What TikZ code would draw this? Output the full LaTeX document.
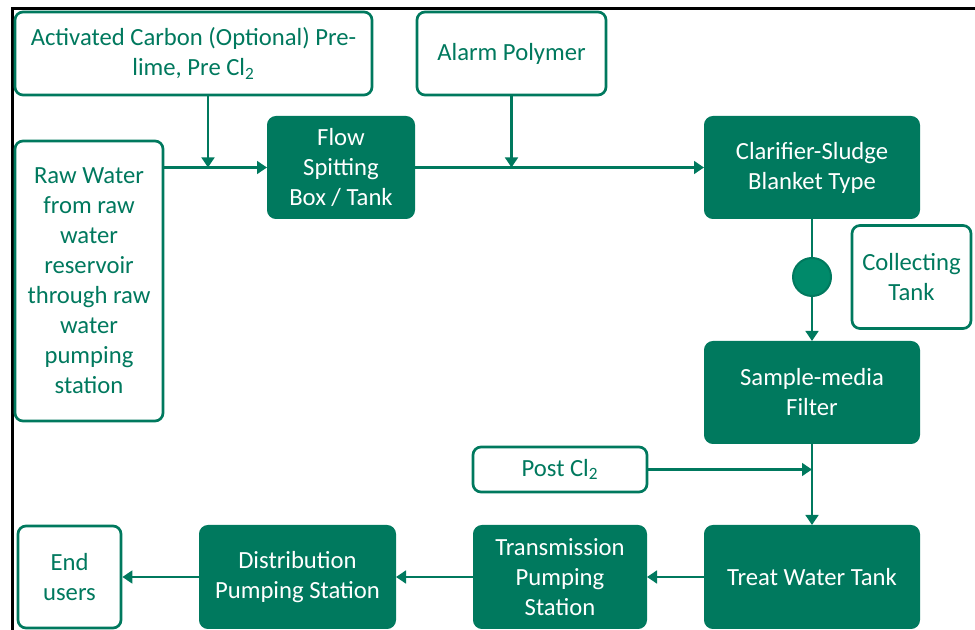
\documentclass[tikz,border=0pt]{standalone}
\usepackage{fontspec}
\setmainfont{Carlito}
\usetikzlibrary{arrows.meta, positioning}
\definecolor{plantgreen}{RGB}{0,121,94}
\definecolor{pumpgreen}{RGB}{0,138,106}
\tikzset{
    stage/.style={rectangle, rounded corners=6pt, fill=plantgreen, draw=plantgreen,
        line width=1.5pt, text=white, align=center, inner sep=2pt},
    dosebox/.style={rectangle, rounded corners=6pt, fill=white, draw=plantgreen,
        line width=2pt, text=plantgreen, align=center, inner sep=2pt},
    arrow/.style={-{Triangle[length=7.5pt, width=9.5pt]}, line width=2pt, draw=plantgreen}
}

\begin{document}
\begin{tikzpicture}[x=0.75pt, y=-0.75pt, font=\fontsize{18.5}{22.5}\selectfont]

    \useasboundingbox (0,0) rectangle (975,630);
    \draw[line width=2.25pt] (12,630) -- (12,9) -- (975,9);

    % chemical dosing and intake
    \node[dosebox, minimum width=267.75pt, minimum height=62.25pt] (actv) at (193.5,53.5)
        {Activated Carbon (Optional) Pre-\\lime, Pre Cl\textsubscript{2}};
    \node[dosebox, minimum width=141.75pt, minimum height=62.25pt] (alarm) at (511.5,53.5) {Alarm Polymer};
    \node[dosebox, minimum width=111pt, minimum height=210pt] (raw) at (89,281)
        {Raw Water\\from raw\\water\\reservoir\\through raw\\water\\pumping\\station};

    % treatment line
    \node[stage, minimum width=109.5pt, minimum height=75.75pt] (flow) at (341,167.5) {Flow\\Spitting\\Box / Tank};
    \node[stage, minimum width=160.5pt, minimum height=75.75pt] (clar) at (812,167.5) {Clarifier-Sludge\\Blanket Type};
    \node[circle, fill=pumpgreen, draw=plantgreen, line width=1.5pt, minimum size=28.5pt, inner sep=0pt,
        below=28.5pt of clar] (pump) {};
    \node[dosebox, minimum width=89.25pt, minimum height=77.25pt, right=14pt of pump] (coll) {Collecting\\Tank};
    \node[stage, minimum width=160.5pt, minimum height=75.75pt, below=91.5pt of clar] (sample) {Sample-media\\Filter};
    \node[dosebox, minimum width=130.5pt, minimum height=33.75pt] (post) at (560,469.5) {Post Cl\textsubscript{2}};

    % storage and distribution
    \node[stage, minimum width=160.5pt, minimum height=76.5pt, below=60.75pt of sample] (treat) {Treat Water Tank};
    \node[stage, minimum width=129pt, minimum height=76.5pt, left=42.75pt of treat] (trans) {Transmission\\Pumping\\Station};
    \node[stage, minimum width=146.25pt, minimum height=76.5pt, left=57.75pt of trans] (dist) {Distribution\\Pumping Station};
    \node[dosebox, minimum width=77.25pt, minimum height=76.5pt, left=57.5pt of dist] (endu) {End\\users};

    \coordinate (mixA) at (208,167.5);

    \draw[arrow] (raw.east |- flow.west) -- (flow.west);
    \draw[arrow] (actv.south -| mixA) -- (mixA);
    \draw[arrow] (flow.east) -- (clar.west);
    \draw[arrow] (alarm.south) -- (alarm.south |- clar.west);
    \draw[plantgreen, line width=2pt] (clar.south) -- (pump.north);
    \draw[arrow] (pump.south) -- (sample.north);
    \draw[arrow] (sample.south) -- (treat.north);
    \draw[arrow] (post.east) -- (post.east -| treat.north);
    \draw[arrow] (treat.west) -- (trans.east);
    \draw[arrow] (trans.west) -- (dist.east);
    \draw[arrow] (dist.west) -- (endu.east);

\end{tikzpicture}
\end{document}
